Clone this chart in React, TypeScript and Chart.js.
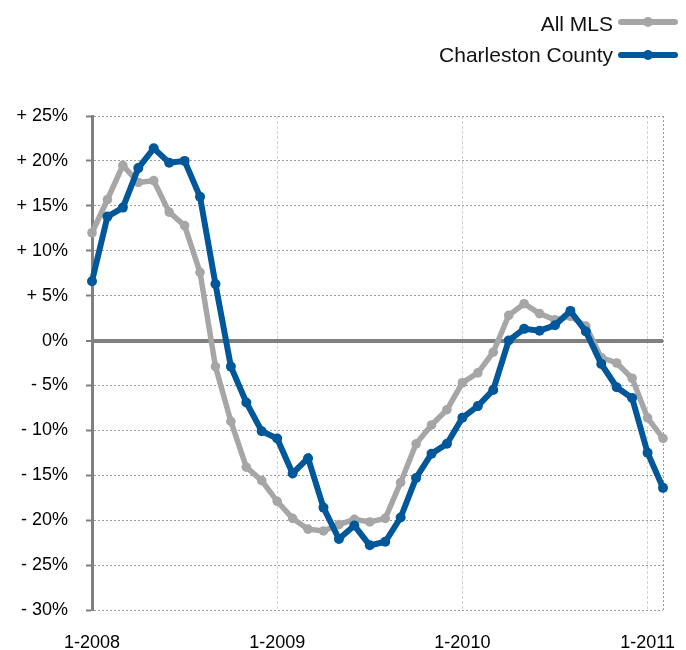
import React, { useEffect, useRef } from "react";
import { Chart, registerables } from "chart.js";

Chart.register(...registerables);

const months: string[] = [
  "1-2008", "2-2008", "3-2008", "4-2008", "5-2008", "6-2008", "7-2008", "8-2008", "9-2008", "10-2008", "11-2008", "12-2008",
  "1-2009", "2-2009", "3-2009", "4-2009", "5-2009", "6-2009", "7-2009", "8-2009", "9-2009", "10-2009", "11-2009", "12-2009",
  "1-2010", "2-2010", "3-2010", "4-2010", "5-2010", "6-2010", "7-2010", "8-2010", "9-2010", "10-2010", "11-2010", "12-2010",
  "1-2011", "2-2011",
];

const allMls: number[] = [
  12.0, 15.7, 19.5, 17.6, 17.8, 14.3, 12.8, 7.6, -2.9, -9.0, -14.1, -15.6,
  -17.9, -19.8, -21.0, -21.2, -20.5, -19.9, -20.2, -19.8, -15.8, -11.5, -9.4, -7.7,
  -4.7, -3.6, -1.3, 2.8, 4.1, 3.0, 2.3, 2.7, 1.6, -1.9, -2.5, -4.2,
  -8.6, -10.9,
];

const charlestonCounty: number[] = [
  6.6, 13.8, 14.8, 19.2, 21.4, 19.8, 20.0, 16.0, 6.3, -2.9, -6.9, -10.1,
  -10.9, -14.8, -13.1, -18.6, -22.1, -20.6, -22.8, -22.4, -19.7, -15.3, -12.6, -11.5,
  -8.6, -7.3, -5.5, 0.0, 1.3, 1.1, 1.7, 3.3, 1.0, -2.6, -5.2, -6.4,
  -12.5, -16.4,
];

const seriesNames: string[] = ["All MLS", "Charleston County"];
const seriesColors: string[] = ["#a6a6a6", "#00579a"];

const FONT = "'Liberation Sans', Arial, Helvetica, sans-serif";

function yTickLabel(v: number): string {
  if (v > 0) return "+ " + v + "%";
  if (v < 0) return "- " + Math.abs(v) + "%";
  return "0%";
}

const legendPlugin = {
  id: "rightLegend",
  afterDraw(chart: any) {
    const ctx = chart.ctx as CanvasRenderingContext2D;
    const rows = [
      { y: 22, base: 31 },
      { y: 55, base: 62 },
    ];
    ctx.save();
    seriesNames.forEach((name, i) => {
      const r = rows[i];
      ctx.font = "21px " + FONT;
      ctx.fillStyle = "#111";
      ctx.textAlign = "right";
      ctx.textBaseline = "alphabetic";
      ctx.fillText(name, 613, r.base);
      ctx.strokeStyle = seriesColors[i];
      ctx.lineWidth = 6;
      ctx.lineCap = "round";
      ctx.beginPath();
      ctx.moveTo(621, r.y);
      ctx.lineTo(675, r.y);
      ctx.stroke();
      ctx.fillStyle = seriesColors[i];
      ctx.beginPath();
      ctx.arc(648, r.y, 5, 0, Math.PI * 2);
      ctx.fill();
    });
    ctx.restore();
  },
};

export default function App() {
  const ref = useRef<HTMLCanvasElement | null>(null);

  useEffect(() => {
    if (!ref.current) return;
    const chart = new Chart(ref.current, {
      type: "line",
      data: {
        labels: months,
        datasets: [
          {
            label: seriesNames[0],
            data: allMls,
            borderColor: seriesColors[0],
            backgroundColor: seriesColors[0],
            pointBackgroundColor: seriesColors[0],
            borderWidth: 5.5,
            pointRadius: 4.8,
            pointBorderWidth: 0,
            tension: 0,
            clip: false as any,
            order: 2,
          },
          {
            label: seriesNames[1],
            data: charlestonCounty,
            borderColor: seriesColors[1],
            backgroundColor: seriesColors[1],
            pointBackgroundColor: seriesColors[1],
            borderWidth: 6,
            pointRadius: 5,
            pointBorderWidth: 0,
            tension: 0,
            clip: false as any,
            order: 1,
          },
        ],
      },
      options: {
        responsive: false,
        animation: false,
        layout: { padding: { top: 116, right: 23, left: 0, bottom: 0 } },
        plugins: {
          legend: { display: false },
          tooltip: { enabled: false },
        },
        scales: {
          x: {
            type: "category",
            offset: false,
            afterFit: (scale: any) => {
              scale.height = 40;
            },
            border: {
              display: false,
              dash: (c: any) => (c.index === 37 ? [2, 2] : [3, 2]),
            },
            grid: {
              drawTicks: false,
              lineWidth: 1,
              color: (c: any) => {
                if (c.index === 37) return "#9a9a9a";
                if (c.index === 12 || c.index === 24 || c.index === 36) return "#d2d2d2";
                return "rgba(0,0,0,0)";
              },
            },
            ticks: {
              autoSkip: false,
              maxRotation: 0,
              minRotation: 0,
              padding: 22,
              color: "#000",
              font: { family: FONT, size: 18 },
              callback: (_v: any, i: number) => (months[i].startsWith("1-") ? months[i] : ""),
            },
          },
          y: {
            min: -30,
            max: 25,
            afterFit: (scale: any) => {
              scale.width = 92;
            },
            border: {
              display: true,
              color: "#808080",
              width: 3,
              dash: (c: any) => (c.tick && c.tick.value !== 0 ? [2, 2] : []),
            },
            grid: {
              color: (c: any) => (c.tick && c.tick.value === 0 ? "#808080" : "#9a9a9a"),
              lineWidth: (c: any) => (c.tick && c.tick.value === 0 ? 4 : 1),
              drawTicks: true,
              tickLength: 6,
              tickColor: "#808080",
              tickWidth: 2,
              tickBorderDash: [],
            },
            ticks: {
              stepSize: 5,
              padding: 18,
              color: "#000",
              font: { family: FONT, size: 18 },
              callback: (v: any) => yTickLabel(Number(v)),
            },
          },
        },
      },
      plugins: [legendPlugin],
    } as any);
    return () => chart.destroy();
  }, []);

  return (
    <div style={{ position: "absolute", left: 0, top: 0, width: 686, height: 650 }}>
      <canvas ref={ref} width={686} height={650} style={{ width: 686, height: 650 }} />
    </div>
  );
}
